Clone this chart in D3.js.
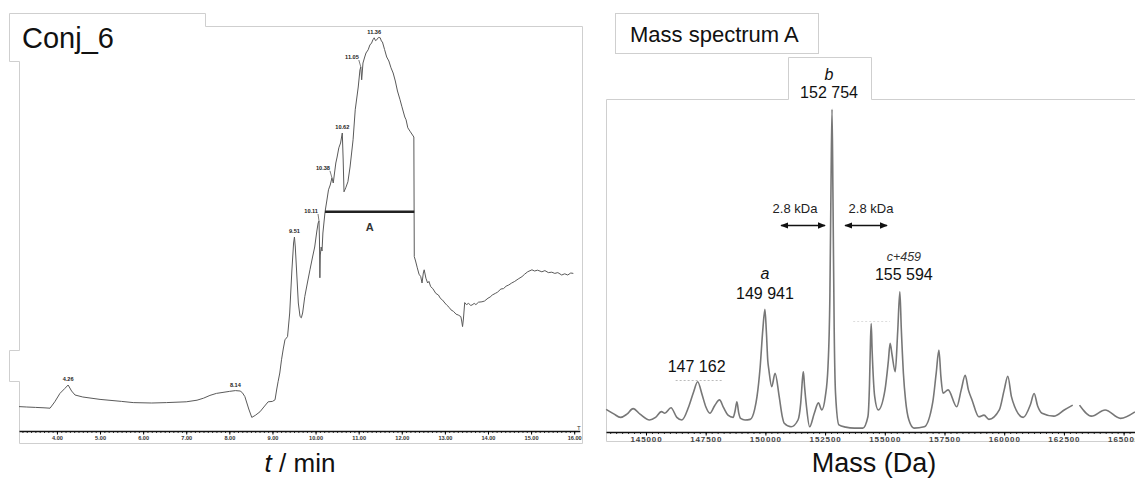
<!DOCTYPE html>
<html><head><meta charset="utf-8">
<script src="https://cdn.jsdelivr.net/npm/d3@7"></script>
<style>
body{margin:0;background:#fff;}
svg{display:block;font-family:"Liberation Sans",Arial,sans-serif;}
</style></head>
<body><svg id="c" width="1135" height="482"></svg>
<script>
// ---------- DATA ----------
// Chromatogram Conj_6: [time (min), signal (% of full scale)]
const chromTime = [3.12,3.3,3.5,3.7,3.84,3.95,4.07,4.18,4.26,4.34,4.42,4.6,5.0,5.5,5.77,6.2,6.54,7.0,7.25,7.4,7.55,7.7,8.0,8.14,8.25,8.3,8.36,8.45,8.52,8.6,8.71,8.8,8.9,9.0,9.06,9.1,9.13,9.17,9.21,9.25,9.29,9.35,9.4,9.45,9.49,9.51,9.53,9.56,9.6,9.64,9.67,9.7,9.75,9.81,9.87,9.93,9.98,10.03,10.06,10.08,10.09,10.1,10.11,10.13,10.15,10.17,10.22,10.26,10.3,10.34,10.38,10.41,10.44,10.47,10.5,10.54,10.58,10.62,10.64,10.66,10.7,10.75,10.8,10.87,10.92,10.99,11.03,11.05,11.07,11.1,11.14,11.17,11.22,11.26,11.3,11.33,11.36,11.39,11.42,11.46,11.5,11.53,11.55,11.6,11.65,11.7,11.75,11.8,11.85,11.9,11.96,12.0,12.07,12.1,12.14,12.2,12.28,12.29,12.32,12.36,12.4,12.44,12.47,12.5,12.52,12.56,12.6,12.63,12.67,12.72,12.79,12.85,12.9,12.94,13.0,13.05,13.1,13.14,13.2,13.26,13.31,13.37,13.39,13.41,13.43,13.46,13.5,13.55,13.6,13.63,13.68,13.72,13.78,13.86,13.92,14.0,14.05,14.1,14.17,14.22,14.3,14.36,14.42,14.48,14.55,14.62,14.7,14.79,14.85,14.92,15.02,15.08,15.15,15.25,15.32,15.4,15.48,15.55,15.62,15.71,15.78,15.85,15.92,15.98];
const chromSignal = [6.1,6.0,5.9,5.8,5.7,7.3,9.4,10.6,11.5,10.0,9.0,8.5,7.9,7.4,7.1,7.0,7.1,7.3,7.7,8.2,8.9,9.4,9.9,10.1,10.0,9.6,8.6,5.5,3.4,3.9,4.8,6.0,7.3,7.4,7.8,10.5,12.3,14.5,17.8,20.5,22.8,23.6,29.5,40,47,48.5,46,40,32,28.6,28.3,29.5,33.6,37,40.3,43.5,46,50,52,52.5,48,38.3,44,46,45,49.5,54.8,57.5,60.3,61.5,63.3,62.0,64.5,67,68.5,70.8,72,74.5,68,59.8,60.8,62.3,66,72.8,80.3,86,90.3,91,87.8,92,93.5,94.5,95.3,96.5,97,97.8,98.3,97.6,97.8,98.4,98.3,97.4,97.3,95.4,93.5,92.5,90.8,89.5,87.5,85,82.8,81.2,78.5,77.8,75.8,74.8,73.5,43.6,42.5,40.8,39.2,38.6,37.0,39.5,40.3,38.2,37.0,37.4,36.1,35.6,34.4,34.0,33.1,32.8,32.0,31.4,30.9,30.3,29.9,29.2,29.0,28.6,27.5,26.1,28.0,32.1,31.6,31.9,31.4,31.5,31.9,31.6,32.2,32.3,32.5,33.2,33.5,34.0,34.4,34.7,35.5,35.6,36.2,36.5,37.0,37.4,38.0,38.6,39.2,39.8,40.3,40.0,40.2,39.8,40.1,39.6,39.7,39.4,39.6,39.0,39.3,39.0,39.5,39.4];
const chromPeakLabels = ["4.26","8.14","9.51","10.11","10.38","10.62","11.05","11.36"];
const chromPeakTimes  = [4.26, 8.14, 9.51, 10.08, 10.38, 10.62, 11.05, 11.36];
const chromTickLabels = ["4.00","5.00","6.00","7.00","8.00","9.00","10.00","11.00","12.00","13.00","14.00","15.00","16.00"];
const fractionA = [10.22, 12.29, 54.8]; // start, end, level

// Mass spectrum A: [mass (Da), relative intensity]; null marks the gap in the trace
const specMass = [143330,143650,143932,144200,144460,144750,145147,145400,145645,145787,146047,146290,146503,146788,147000,147162,147350,147504,147676,147880,148078,148250,148434,148647,148730,148806,148880,148961,149146,149363,149550,149648,149780,149891,149980,150040,150100,150147,150264,150406,150578,150700,150791,151076,151365,151480,151560,151591,151640,151721,151851,152048,152219,152362,152508,152620,152700,152750,152790,152830,152880,152936,153078,153363,153723,154079,154292,154360,154400,154430,154470,154577,154724,155008,155150,155222,155300,155436,155540,155630,155690,155780,155867,156009,156223,156650,157010,157150,157266,157350,157437,157651,158011,158200,158367,158500,158652,158937,159154,159359,159795,160000,160151,160300,160440,160796,161100,161252,161400,161583,162081,162513,162869,163000,163153,163656,164225,164870,165477];
const specIntensity = [7.0,5.6,4.5,5.5,7.2,5.5,3.7,4.5,6.3,5.8,7.5,4.5,3.7,7.8,12.5,15.5,11.5,7.8,5.8,8.2,9.9,7.5,5.2,4.5,6.5,9.3,6.0,4.2,3.7,3.9,7.0,10.9,20,31.5,37.9,31,22,19.1,14.0,18.1,10.9,5.0,2.7,1.6,3.7,9,17,18.6,14,7.8,1.6,5.8,9.0,6.8,10.9,20,42,78,99.6,72,32,12,2.2,1.5,1.2,1.2,4.7,15,28,33.5,25,10.9,6.8,13.0,22,27.4,24,18.6,31,43.3,32,18,10,3.7,1.2,1.6,9.3,18,25.3,17,12.0,13.0,7.8,13,17.5,13,9.9,4.7,5.2,3.9,6.8,13,17.2,11,7.8,4.5,8.5,11.9,8,5.8,4.9,6.8,8.3,null,8.3,4.9,6.8,4.2,6.2];
const specTickValues = [145000,147500,150000,152500,155000,157500,160000,162500,165000];
const specPeakNames  = ["a","b","c+459",""];
const specPeakMasses = ["149 941","152 754","155 594","147 162"];
const specPeakPos    = [149980, 152790, 155630, 147162];
const shiftLabel = "2.8 kDa";

// ---------- DRAW ----------
const svg = d3.select("#c");
const FRAME = "#cfcfcf";
svg.append("rect").attr("width",1135).attr("height",482).attr("fill","#fff");

const defs = svg.append("defs");
defs.append("marker").attr("id","ah").attr("viewBox","0 0 10 10").attr("refX",9).attr("refY",5)
  .attr("markerWidth",5).attr("markerHeight",5).attr("orient","auto-start-reverse")
  .append("path").attr("d","M0,1 L10,5 L0,9 z").attr("fill","#111");

// ===== Left panel =====
const xL = d3.scaleLinear().domain([3.12,16.13]).range([19,579.8]);
const yL = d3.scaleLinear().domain([0,100]).range([431,31]);

// frame
svg.append("path").attr("fill","none").attr("stroke",FRAME).attr("stroke-width",1)
  .attr("d","M205.5,26.5 L582.5,26.5 L582.5,443.5 L19.5,443.5 L19.5,381.5 L9.5,381.5 L9.5,350.5 L19.5,350.5 L19.5,61.5");
svg.append("path").attr("fill","none").attr("stroke",FRAME).attr("stroke-width",1)
  .attr("d","M19.5,61.5 L9.5,61.5 L9.5,13.5 L205.5,13.5 L205.5,26.5");
svg.append("text").attr("x",22).attr("y",48).attr("font-size",29).attr("fill","#111").text("Conj_6");

// axis
const majL = chromTickLabels.map(Number);
const gL = svg.append("g").attr("transform","translate(0,431)");
gL.call(d3.axisBottom(xL).tickValues(d3.range(32,161).map(d=>d/10)).tickSize(2).tickSizeOuter(0).tickFormat(""));
gL.call(g=>g.selectAll(".tick line").attr("stroke","#333"));
const gL2 = svg.append("g").attr("transform","translate(0,431)");
gL2.call(d3.axisBottom(xL).tickValues(majL).tickSize(3.5).tickSizeOuter(0).tickFormat((d,i)=>chromTickLabels[i]));
gL2.select(".domain").attr("stroke","#111").attr("stroke-width",1.6);
gL.select(".domain").remove();
gL2.selectAll(".tick text").attr("font-size",5.6).attr("font-weight","bold").attr("fill","#333").attr("y",5).attr("dy","0.71em")
  .attr("font-family","Liberation Sans, Arial, sans-serif");
svg.append("text").attr("x",xL(16.13)-1).attr("y",430).attr("font-size",6).attr("text-anchor","middle").attr("fill","#333").text("T");

// trace
const chrom = chromTime.map((t,i)=>[t,chromSignal[i]]);
svg.append("path").datum(chrom).attr("fill","none").attr("stroke","#5a5a5a").attr("stroke-width",1)
  .attr("d",d3.line().x(d=>xL(d[0])).y(d=>yL(d[1])));

// peak labels
const peakVal = t => { let best=chrom[0]; chrom.forEach(d=>{ if(Math.abs(d[0]-t)<Math.abs(best[0]-t)) best=d; }); return best[1]; };
const leaderDx = {"10.11":-7,"10.38":-8,"11.05":-8};
chromPeakLabels.forEach((lab,i)=>{
  const t=chromPeakTimes[i], px=xL(t), py=yL(peakVal(t));
  const dx = leaderDx[lab]||0;
  const tx = px+dx, ty = py-(dx?8:4);
  if(dx){
    svg.append("line").attr("x1",px).attr("y1",py).attr("x2",tx+6).attr("y2",ty+1).attr("stroke","#444").attr("stroke-width",0.7);
  }
  svg.append("text").attr("x",dx?tx+6:tx).attr("y",ty).attr("font-size",5.6).attr("font-weight","bold").attr("fill","#222")
    .attr("text-anchor",dx?"end":"middle").text(lab);
});

// fraction A bar
svg.append("line").attr("x1",xL(fractionA[0])).attr("x2",xL(fractionA[1])).attr("y1",yL(fractionA[2])).attr("y2",yL(fractionA[2]))
  .attr("stroke","#222").attr("stroke-width",2.6);
svg.append("text").attr("x",xL((fractionA[0]+fractionA[1])/2)).attr("y",yL(fractionA[2])+19).attr("text-anchor","middle")
  .attr("font-size",11).attr("font-weight","bold").attr("fill","#333").text("A");

// x title
const tt = svg.append("text").attr("x",300).attr("y",472).attr("text-anchor","middle").attr("font-size",26).attr("fill","#111");
tt.append("tspan").attr("font-style","italic").text("t");
tt.append("tspan").text(" / min");

// ===== Right panel =====
const xR = d3.scaleLinear().domain([143325,165477]).range([606,1135]);
const yR = d3.scaleLinear().domain([0,100]).range([432,108]);

// frame
svg.append("path").attr("fill","none").attr("stroke",FRAME).attr("stroke-width",1)
  .attr("d","M788.5,99.5 L606.5,99.5 L606.5,441.5 L1135,441.5");
svg.append("path").attr("fill","none").attr("stroke",FRAME).attr("stroke-width",1)
  .attr("d","M1135,99.5 L871.5,99.5 L871.5,57.5 L788.5,57.5 L788.5,99.5");
svg.append("rect").attr("x",615.5).attr("y",13.5).attr("width",203).attr("height",40).attr("fill","none").attr("stroke",FRAME);
svg.append("text").attr("x",630).attr("y",41.5).attr("font-size",22).attr("fill","#111").text("Mass spectrum A");

// axis
const gR = svg.append("g").attr("transform","translate(0,432)");
gR.call(d3.axisBottom(xR).tickValues(d3.range(143500,165500,250)).tickSize(2).tickSizeOuter(0).tickFormat(""));
gR.select(".domain").remove();
gR.selectAll(".tick line").attr("stroke","#333");
const gR2 = svg.append("g").attr("transform","translate(0,432)");
gR2.call(d3.axisBottom(xR).tickValues(specTickValues).tickSize(3.5).tickSizeOuter(0).tickFormat(d3.format("d")));
gR2.select(".domain").attr("stroke","#111").attr("stroke-width",1.6);
gR2.selectAll(".tick text").attr("font-size",8).attr("font-weight","bold").attr("letter-spacing","0.9px").attr("fill","#444")
  .attr("y",4).attr("dy","0.71em").attr("font-family","Liberation Sans, Arial, sans-serif");

// spectrum trace
const spec = specMass.map((m,i)=>[m,specIntensity[i]]);
svg.append("path").datum(spec).attr("fill","none").attr("stroke","#777").attr("stroke-width",1.6)
  .attr("d",d3.line().defined(d=>d[1]!=null).curve(d3.curveMonotoneX).x(d=>xR(d[0])).y(d=>yR(d[1])));

// dotted guide lines
svg.append("line").attr("x1",xR(147162)-22).attr("x2",xR(147162)+26).attr("y1",380.5).attr("y2",380.5)
  .attr("stroke","#bbb").attr("stroke-width",1).attr("stroke-dasharray","2,2");
svg.append("line").attr("x1",xR(154430)-18).attr("x2",xR(155222)).attr("y1",321.5).attr("y2",321.5)
  .attr("stroke","#ddd").attr("stroke-width",1).attr("stroke-dasharray","2,2");

// peak labels
// a
svg.append("text").attr("x",xR(specPeakPos[0])).attr("y",279).attr("text-anchor","middle").attr("font-size",16).attr("font-style","italic").attr("fill","#111").text(specPeakNames[0]);
svg.append("text").attr("x",xR(specPeakPos[0])).attr("y",299).attr("text-anchor","middle").attr("font-size",16).attr("fill","#111").text(specPeakMasses[0]);
// b
svg.append("text").attr("x",xR(specPeakPos[1])-3).attr("y",79.5).attr("text-anchor","middle").attr("font-size",16).attr("font-style","italic").attr("fill","#111").text(specPeakNames[1]);
svg.append("text").attr("x",xR(specPeakPos[1])-3).attr("y",98).attr("text-anchor","middle").attr("font-size",16).attr("fill","#111").text(specPeakMasses[1]);
// c+459
svg.append("text").attr("x",xR(specPeakPos[2])+4).attr("y",261).attr("text-anchor","middle").attr("font-size",12.5).attr("font-style","italic").attr("fill","#333").text(specPeakNames[2]);
svg.append("text").attr("x",xR(specPeakPos[2])+4).attr("y",280).attr("text-anchor","middle").attr("font-size",16).attr("fill","#111").text(specPeakMasses[2]);
// 147 162
svg.append("text").attr("x",xR(specPeakPos[3])-1).attr("y",371.5).attr("text-anchor","middle").attr("font-size",16).attr("fill","#111").text(specPeakMasses[3]);

// 2.8 kDa arrows
const xb = xR(specPeakPos[1]);
[[-1],[1]].forEach(([s])=>{
  const x1 = s<0 ? xb-51 : xb+13, x2 = s<0 ? xb-7 : xb+55;
  svg.append("line").attr("x1",x1).attr("x2",x2).attr("y1",225.5).attr("y2",225.5).attr("stroke","#111").attr("stroke-width",1.6)
    .attr("marker-start","url(#ah)").attr("marker-end","url(#ah)");
  svg.append("text").attr("x",(x1+x2)/2+ (s<0?-8:5)).attr("y",212.5).attr("text-anchor","middle").attr("font-size",13).attr("fill","#222").text(shiftLabel);
});

// x title
svg.append("text").attr("x",874).attr("y",472).attr("text-anchor","middle").attr("font-size",27).attr("fill","#111").text("Mass (Da)");
</script></body></html>
